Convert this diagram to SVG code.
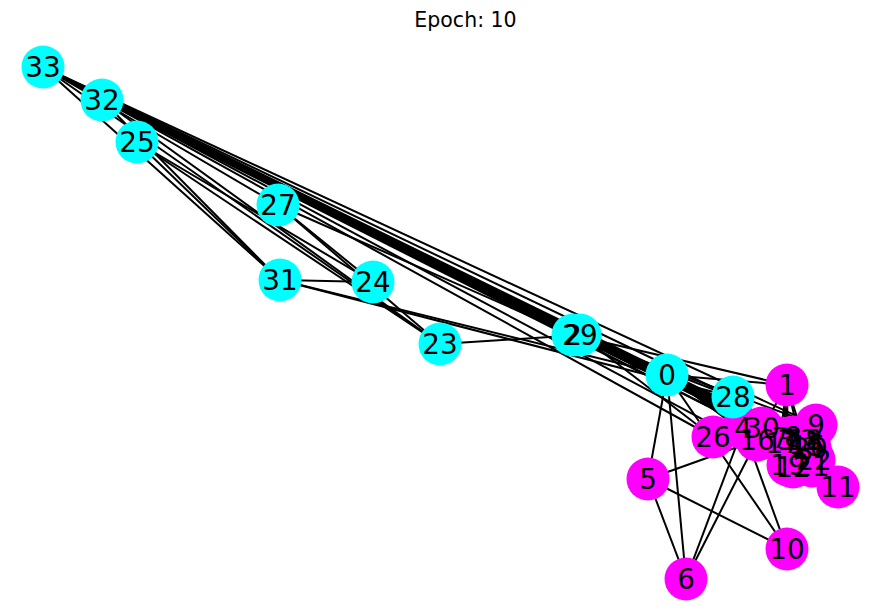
<svg xmlns="http://www.w3.org/2000/svg" width="889" height="612" viewBox="0 0 889 612">
<style>
.e{stroke:#000;stroke-width:2;fill:none}
.c{fill:#00ffff}
.m{fill:#ff00ff}
.t{font-family:"DejaVu Sans","Liberation Sans",sans-serif;font-size:27.8px;fill:#000;text-anchor:middle}
.title{font-family:"DejaVu Sans","Liberation Sans",sans-serif;font-size:20.5px;fill:#000;text-anchor:middle}
</style>
<rect width="889" height="612" fill="#fff"/>
<text class="title" x="465.5" y="27">Epoch: 10</text>
<g id="edges" class="e">
<line x1="667" y1="375" x2="787" y2="385"/>
<line x1="667" y1="375" x2="573" y2="335"/>
<line x1="667" y1="375" x2="786" y2="440"/>
<line x1="667" y1="375" x2="743" y2="428"/>
<line x1="667" y1="375" x2="648" y2="479"/>
<line x1="667" y1="375" x2="686" y2="579"/>
<line x1="667" y1="375" x2="780" y2="438"/>
<line x1="667" y1="375" x2="793" y2="437"/>
<line x1="667" y1="375" x2="787" y2="549"/>
<line x1="667" y1="375" x2="838" y2="487"/>
<line x1="667" y1="375" x2="793" y2="467"/>
<line x1="667" y1="375" x2="800" y2="440"/>
<line x1="667" y1="375" x2="783" y2="443"/>
<line x1="667" y1="375" x2="788" y2="465"/>
<line x1="667" y1="375" x2="812" y2="466"/>
<line x1="667" y1="375" x2="280" y2="280"/>
<line x1="787" y1="385" x2="573" y2="335"/>
<line x1="787" y1="385" x2="786" y2="440"/>
<line x1="787" y1="385" x2="780" y2="438"/>
<line x1="787" y1="385" x2="800" y2="440"/>
<line x1="787" y1="385" x2="783" y2="443"/>
<line x1="787" y1="385" x2="788" y2="465"/>
<line x1="787" y1="385" x2="812" y2="466"/>
<line x1="787" y1="385" x2="762" y2="428"/>
<line x1="573" y1="335" x2="786" y2="440"/>
<line x1="573" y1="335" x2="780" y2="438"/>
<line x1="573" y1="335" x2="793" y2="437"/>
<line x1="573" y1="335" x2="816" y2="425"/>
<line x1="573" y1="335" x2="800" y2="440"/>
<line x1="573" y1="335" x2="278" y2="205"/>
<line x1="573" y1="335" x2="733" y2="397"/>
<line x1="573" y1="335" x2="102" y2="100"/>
<line x1="786" y1="440" x2="780" y2="438"/>
<line x1="786" y1="440" x2="793" y2="467"/>
<line x1="786" y1="440" x2="800" y2="440"/>
<line x1="743" y1="428" x2="686" y2="579"/>
<line x1="743" y1="428" x2="787" y2="549"/>
<line x1="648" y1="479" x2="686" y2="579"/>
<line x1="648" y1="479" x2="787" y2="549"/>
<line x1="648" y1="479" x2="757" y2="440"/>
<line x1="686" y1="579" x2="757" y2="440"/>
<line x1="793" y1="437" x2="762" y2="428"/>
<line x1="793" y1="437" x2="102" y2="100"/>
<line x1="793" y1="437" x2="43" y2="67"/>
<line x1="816" y1="425" x2="43" y2="67"/>
<line x1="800" y1="440" x2="43" y2="67"/>
<line x1="806" y1="444" x2="102" y2="100"/>
<line x1="806" y1="444" x2="43" y2="67"/>
<line x1="808" y1="446" x2="102" y2="100"/>
<line x1="808" y1="446" x2="43" y2="67"/>
<line x1="805" y1="440" x2="102" y2="100"/>
<line x1="805" y1="440" x2="43" y2="67"/>
<line x1="788" y1="465" x2="43" y2="67"/>
<line x1="810" y1="448" x2="102" y2="100"/>
<line x1="810" y1="448" x2="43" y2="67"/>
<line x1="814" y1="460" x2="102" y2="100"/>
<line x1="814" y1="460" x2="43" y2="67"/>
<line x1="440" y1="344" x2="137" y2="142"/>
<line x1="440" y1="344" x2="278" y2="205"/>
<line x1="440" y1="344" x2="580" y2="335"/>
<line x1="440" y1="344" x2="102" y2="100"/>
<line x1="440" y1="344" x2="43" y2="67"/>
<line x1="373" y1="282" x2="137" y2="142"/>
<line x1="373" y1="282" x2="278" y2="205"/>
<line x1="373" y1="282" x2="280" y2="280"/>
<line x1="137" y1="142" x2="280" y2="280"/>
<line x1="713" y1="437" x2="580" y2="335"/>
<line x1="713" y1="437" x2="43" y2="67"/>
<line x1="278" y1="205" x2="43" y2="67"/>
<line x1="733" y1="397" x2="280" y2="280"/>
<line x1="733" y1="397" x2="43" y2="67"/>
<line x1="580" y1="335" x2="102" y2="100"/>
<line x1="580" y1="335" x2="43" y2="67"/>
<line x1="762" y1="428" x2="102" y2="100"/>
<line x1="762" y1="428" x2="43" y2="67"/>
<line x1="280" y1="280" x2="102" y2="100"/>
<line x1="280" y1="280" x2="43" y2="67"/>
<line x1="102" y1="100" x2="43" y2="67"/>
</g>
<g id="node-circles">
<g id="n0"><circle class="c" cx="667" cy="375" r="21.5"/></g>
<g id="n1"><circle class="m" cx="787" cy="385" r="21.5"/></g>
<g id="n2"><circle class="c" cx="573" cy="335" r="21.5"/></g>
<g id="n3"><circle class="m" cx="786" cy="440" r="21.5"/></g>
<g id="n4"><circle class="m" cx="743" cy="428" r="21.5"/></g>
<g id="n5"><circle class="m" cx="648" cy="479" r="21.5"/></g>
<g id="n6"><circle class="m" cx="686" cy="579" r="21.5"/></g>
<g id="n7"><circle class="m" cx="780" cy="438" r="21.5"/></g>
<g id="n8"><circle class="m" cx="793" cy="437" r="21.5"/></g>
<g id="n9"><circle class="m" cx="816" cy="425" r="21.5"/></g>
<g id="n10"><circle class="m" cx="787" cy="549" r="21.5"/></g>
<g id="n11"><circle class="m" cx="838" cy="487" r="21.5"/></g>
<g id="n12"><circle class="m" cx="793" cy="467" r="21.5"/></g>
<g id="n13"><circle class="m" cx="800" cy="440" r="21.5"/></g>
<g id="n14"><circle class="m" cx="806" cy="444" r="21.5"/></g>
<g id="n15"><circle class="m" cx="808" cy="446" r="21.5"/></g>
<g id="n16"><circle class="m" cx="757" cy="440" r="21.5"/></g>
<g id="n17"><circle class="m" cx="783" cy="443" r="21.5"/></g>
<g id="n18"><circle class="m" cx="805" cy="440" r="21.5"/></g>
<g id="n19"><circle class="m" cx="788" cy="465" r="21.5"/></g>
<g id="n20"><circle class="m" cx="810" cy="448" r="21.5"/></g>
<g id="n21"><circle class="m" cx="812" cy="466" r="21.5"/></g>
<g id="n22"><circle class="m" cx="814" cy="460" r="21.5"/></g>
<g id="n23"><circle class="c" cx="440" cy="344" r="21.5"/></g>
<g id="n24"><circle class="c" cx="373" cy="282" r="21.5"/></g>
<g id="n25"><circle class="c" cx="137" cy="142" r="21.5"/></g>
<g id="n26"><circle class="m" cx="713" cy="437" r="21.5"/></g>
<g id="n27"><circle class="c" cx="278" cy="205" r="21.5"/></g>
<g id="n28"><circle class="c" cx="733" cy="397" r="21.5"/></g>
<g id="n29"><circle class="c" cx="580" cy="335" r="21.5"/></g>
<g id="n30"><circle class="m" cx="762" cy="428" r="21.5"/></g>
<g id="n31"><circle class="c" cx="280" cy="280" r="21.5"/></g>
<g id="n32"><circle class="c" cx="102" cy="100" r="21.5"/></g>
<g id="n33"><circle class="c" cx="43" cy="67" r="21.5"/></g>
</g>
<g id="labels" class="t">
<text x="667" y="385">0</text>
<text x="787" y="395">1</text>
<text x="573" y="345">2</text>
<text x="786" y="450">3</text>
<text x="743" y="438">4</text>
<text x="648" y="489">5</text>
<text x="686" y="589">6</text>
<text x="780" y="448">7</text>
<text x="793" y="447">8</text>
<text x="816" y="435">9</text>
<text x="787" y="559">10</text>
<text x="838" y="497">11</text>
<text x="793" y="477">12</text>
<text x="800" y="450">13</text>
<text x="806" y="454">14</text>
<text x="808" y="456">15</text>
<text x="757" y="450">16</text>
<text x="783" y="453">17</text>
<text x="805" y="450">18</text>
<text x="788" y="475">19</text>
<text x="810" y="458">20</text>
<text x="812" y="476">21</text>
<text x="814" y="470">22</text>
<text x="440" y="354">23</text>
<text x="373" y="292">24</text>
<text x="137" y="152">25</text>
<text x="713" y="447">26</text>
<text x="278" y="215">27</text>
<text x="733" y="407">28</text>
<text x="580" y="345">29</text>
<text x="762" y="438">30</text>
<text x="280" y="290">31</text>
<text x="102" y="110">32</text>
<text x="43" y="77">33</text>
</g>
</svg>
